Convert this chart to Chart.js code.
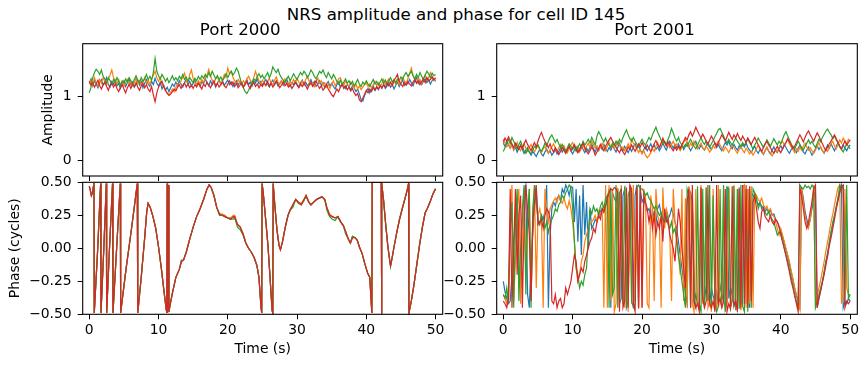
<!DOCTYPE html>
<html>
<head>
<meta charset="utf-8">
<script src="https://cdn.jsdelivr.net/npm/chart.js@4.4.1/dist/chart.umd.min.js"></script>
<style>
  body { margin: 0; background: #fff; }
  #fig { position: relative; width: 868px; height: 367px; }
  #fig canvas { position: absolute; left: 0; top: 0; }
  #suptitle {
    position: absolute; top: 5.3px; left: 456px; transform: translateX(-50%);
    font-family: 'DejaVu Sans', sans-serif; font-size: 16.67px; line-height: 20px;
    white-space: nowrap; color: #000;
  }
</style>
</head>
<body>
<div id="fig">
  <div id="suptitle">NRS amplitude and phase for cell ID 145</div>
  <canvas id="ampLeft" width="868" height="367"></canvas>
  <canvas id="ampRight" width="868" height="367"></canvas>
  <canvas id="phaseLeft" width="868" height="367"></canvas>
  <canvas id="phaseRight" width="868" height="367"></canvas>
</div>
<script>
// tab10 colours, one per antenna
const colors = ['#1f77b4', '#ff7f0e', '#2ca02c', '#d62728'];

const timeTicks = [0, 10, 20, 30, 40, 50];
const ampTicks = [0, 1];
const phaseTicks = [-0.5, -0.25, 0, 0.25, 0.5];

// amplitude and Port 2001 phase: one sample every 0.25 s, 0..50 s
const sampleStep = 0.25;

// Port 2000 amplitude
const ampLeftBlue = [
  1.22,1.28,1.17,1.25,1.2,1.14,1.23,1.27,1.18,1.22,1.3,1.19,1.15,1.24,1.2,1.26,1.17,1.21,1.13,1.2,
  1.25,1.16,1.22,1.28,1.19,1.23,1.15,1.2,1.26,1.18,1.24,1.14,1.21,1.27,1.2,1.16,1.24,1.19,1.29,1.21,
  1.17,1.23,1.12,1.18,1.1,1.15,1.08,1.14,1.2,1.16,1.23,1.18,1.25,1.2,1.15,1.22,1.27,1.19,1.24,1.17,
  1.21,1.26,1.18,1.23,1.16,1.24,1.2,1.28,1.22,1.17,1.25,1.19,1.23,1.15,1.21,1.27,1.2,1.24,1.18,1.22,
  1.26,1.19,1.23,1.16,1.21,1.25,1.18,1.24,1.2,1.15,1.22,1.27,1.19,1.23,1.17,1.25,1.21,1.28,1.2,1.24,
  1.18,1.23,1.27,1.2,1.15,1.22,1.26,1.19,1.24,1.17,1.21,1.25,1.18,1.23,1.28,1.2,1.16,1.22,1.19,1.25,
  1.2,1.15,1.22,1.26,1.18,1.23,1.17,1.21,1.27,1.19,1.24,1.16,1.2,1.25,1.18,1.22,1.14,1.2,1.24,1.17,
  1.21,1.16,1.12,1.19,1.23,1.15,1.2,1.17,1.13,1.19,1.16,1.11,1.17,1.14,1.08,1.12,1.04,0.95,0.93,1.02,
  1.08,1.13,1.06,1.12,1.17,1.1,1.15,1.11,1.18,1.14,1.2,1.13,1.17,1.22,1.15,1.19,1.12,1.18,1.23,1.16,
  1.21,1.26,1.18,1.23,1.2,1.27,1.22,1.17,1.25,1.3,1.21,1.26,1.19,1.24,1.28,1.22,1.27,1.2,1.25,1.29,
  1.24];
const ampLeftOrange = [
  1.2,1.26,1.18,1.3,1.22,1.17,1.27,1.21,1.3,1.24,1.19,1.28,1.34,1.42,1.3,1.25,1.2,1.27,1.18,1.23,
  1.16,1.22,1.27,1.19,1.24,1.17,1.22,1.29,1.2,1.25,1.18,1.23,1.3,1.21,1.26,1.19,1.28,1.34,1.4,1.3,
  1.24,1.3,1.2,1.15,1.1,1.06,1.03,1.07,1.12,1.08,1.15,1.2,1.17,1.25,1.3,1.37,1.26,1.22,1.35,1.42,
  1.28,1.22,1.18,1.25,1.2,1.27,1.22,1.3,1.34,1.43,1.33,1.26,1.21,1.28,1.32,1.24,1.19,1.27,1.35,1.3,
  1.45,1.36,1.4,1.3,1.25,1.2,1.27,1.22,1.18,1.25,1.21,1.28,1.32,1.26,1.22,1.3,1.4,1.32,1.25,1.2,
  1.26,1.21,1.17,1.24,1.29,1.22,1.18,1.26,1.31,1.23,1.19,1.25,1.2,1.28,1.22,1.16,1.24,1.2,1.27,1.22,
  1.29,1.23,1.18,1.25,1.2,1.27,1.32,1.24,1.19,1.22,1.16,1.24,1.29,1.21,1.25,1.18,1.22,1.15,1.2,1.13,
  1.2,1.25,1.17,1.22,1.28,1.3,1.22,1.18,1.25,1.2,1.16,1.23,1.19,1.14,1.2,1.12,1.17,1.11,1.15,1.19,
  1.22,1.16,1.2,1.14,1.19,1.24,1.18,1.22,1.16,1.21,1.27,1.2,1.24,1.28,1.21,1.17,1.24,1.2,1.26,1.19,
  1.23,1.3,1.25,1.2,1.28,1.36,1.45,1.33,1.27,1.22,1.3,1.25,1.2,1.29,1.34,1.26,1.3,1.38,1.32,1.27,
  1.3];
const ampLeftGreen = [
  1.06,1.15,1.3,1.38,1.43,1.4,1.35,1.42,1.32,1.28,1.22,1.3,1.25,1.19,1.27,1.22,1.3,1.24,1.18,1.25,
  1.21,1.28,1.23,1.3,1.25,1.2,1.27,1.33,1.26,1.22,1.3,1.24,1.28,1.35,1.27,1.32,1.26,1.38,1.6,1.4,
  1.33,1.28,1.35,1.3,1.24,1.29,1.22,1.27,1.33,1.26,1.3,1.25,1.32,1.28,1.35,1.27,1.31,1.24,1.3,1.26,
  1.22,1.29,1.25,1.32,1.27,1.33,1.29,1.35,1.3,1.38,1.32,1.4,1.34,1.28,1.33,1.27,1.31,1.25,1.3,1.36,
  1.3,1.36,1.4,1.34,1.38,1.45,1.4,1.3,1.2,1.14,1.08,1.05,1.1,1.16,1.22,1.28,1.25,1.32,1.36,1.3,
  1.34,1.28,1.33,1.38,1.3,1.36,1.47,1.42,1.38,1.43,1.35,1.3,1.26,1.22,1.28,1.32,1.25,1.3,1.36,1.31,
  1.27,1.33,1.38,1.34,1.4,1.36,1.3,1.35,1.42,1.38,1.32,1.28,1.34,1.4,1.37,1.42,1.35,1.3,1.38,1.33,
  1.28,1.35,1.3,1.24,1.2,1.26,1.18,1.23,1.28,1.21,1.25,1.19,1.24,1.17,1.22,1.27,1.2,1.16,1.23,1.19,
  1.25,1.2,1.16,1.22,1.27,1.2,1.24,1.18,1.23,1.28,1.21,1.26,1.2,1.25,1.3,1.23,1.27,1.22,1.28,1.25,
  1.31,1.27,1.34,1.38,1.32,1.36,1.4,1.33,1.28,1.35,1.3,1.38,1.32,1.27,1.34,1.4,1.36,1.3,1.37,1.33,
  1.35];
const ampLeftRed = [
  1.24,1.18,1.22,1.15,1.2,1.26,1.17,1.12,1.19,1.23,1.16,1.1,1.18,1.22,1.15,1.2,1.13,1.08,1.15,1.19,
  1.12,1.06,1.14,1.19,1.13,1.2,1.16,1.22,1.15,1.1,1.17,1.21,1.14,1.19,1.12,1.08,1.16,1.03,0.92,1.06,
  1.15,1.2,1.24,1.16,1.1,1.05,1.02,1.04,1.08,1.12,1.09,1.15,1.19,1.13,1.18,1.22,1.15,1.2,1.14,1.18,
  1.13,1.19,1.15,1.21,1.17,1.12,1.2,1.16,1.23,1.18,1.14,1.2,1.25,1.17,1.21,1.15,1.19,1.23,1.17,1.14,
  1.2,1.25,1.19,1.23,1.16,1.21,1.14,1.18,1.22,1.15,1.19,1.24,1.17,1.13,1.19,1.22,1.16,1.2,1.14,1.19,
  1.16,1.22,1.18,1.24,1.17,1.21,1.15,1.19,1.25,1.2,1.14,1.18,1.23,1.17,1.21,1.15,1.19,1.13,1.17,1.22,
  1.18,1.14,1.2,1.16,1.22,1.17,1.12,1.18,1.23,1.16,1.2,1.25,1.18,1.13,1.17,1.1,1.14,1.19,1.12,1.08,
  1.03,1.0,1.06,1.12,1.08,1.15,1.19,1.13,1.17,1.11,1.15,1.09,1.13,1.06,1.02,1.05,0.95,0.92,0.98,1.04,
  1.1,1.06,1.12,1.08,1.14,1.1,1.16,1.12,1.18,1.13,1.19,1.15,1.21,1.17,1.23,1.18,1.26,1.3,1.35,1.24,
  1.2,1.16,1.22,1.18,1.24,1.2,1.17,1.23,1.27,1.21,1.25,1.19,1.24,1.28,1.22,1.3,1.25,1.27,1.31,1.26,
  1.29];

// Port 2001 amplitude
const ampRightBlue = [
  0.27,0.22,0.3,0.24,0.19,0.25,0.16,0.21,0.13,0.19,0.24,0.17,0.11,0.16,0.2,0.13,0.08,0.14,0.1,0.06,
  0.12,0.17,0.1,0.07,0.13,0.18,0.11,0.15,0.08,0.12,0.17,0.1,0.14,0.2,0.13,0.18,0.12,0.16,0.22,0.15,
  0.1,0.16,0.21,0.14,0.18,0.24,0.17,0.12,0.19,0.14,0.2,0.26,0.18,0.13,0.2,0.15,0.22,0.17,0.25,0.19,
  0.14,0.2,0.16,0.23,0.18,0.13,0.2,0.27,0.2,0.15,0.22,0.17,0.12,0.19,0.14,0.21,0.26,0.19,0.23,0.16,
  0.11,0.17,0.22,0.15,0.2,0.26,0.19,0.24,0.17,0.21,0.15,0.2,0.27,0.21,0.16,0.23,0.3,0.24,0.19,0.25,
  0.2,0.26,0.19,0.24,0.17,0.22,0.28,0.21,0.15,0.2,0.26,0.3,0.22,0.18,0.24,0.19,0.16,0.23,0.28,0.21,
  0.17,0.23,0.27,0.2,0.25,0.19,0.15,0.22,0.28,0.24,0.3,0.22,0.18,0.25,0.2,0.16,0.23,0.19,0.25,0.21,
  0.27,0.2,0.16,0.12,0.18,0.22,0.15,0.11,0.17,0.13,0.09,0.15,0.2,0.14,0.1,0.16,0.21,0.15,0.12,0.18,
  0.23,0.17,0.25,0.2,0.15,0.11,0.17,0.22,0.16,0.12,0.19,0.24,0.18,0.13,0.1,0.16,0.21,0.14,0.08,0.13,
  0.18,0.23,0.17,0.21,0.15,0.11,0.18,0.24,0.19,0.26,0.2,0.15,0.22,0.28,0.21,0.17,0.24,0.19,0.15,0.21,
  0.24];
const ampRightOrange = [
  0.33,0.27,0.21,0.26,0.19,0.24,0.17,0.22,0.28,0.2,0.15,0.21,0.26,0.19,0.14,0.2,0.25,0.18,0.13,0.19,
  0.24,0.17,0.12,0.18,0.22,0.15,0.11,0.17,0.21,0.26,0.19,0.14,0.2,0.25,0.18,0.23,0.16,0.12,0.19,0.24,
  0.28,0.21,0.16,0.22,0.13,0.18,0.24,0.17,0.22,0.27,0.2,0.3,0.25,0.19,0.23,0.16,0.21,0.27,0.2,0.15,
  0.22,0.28,0.2,0.25,0.18,0.23,0.3,0.24,0.17,0.21,0.15,0.2,0.26,0.19,0.33,0.27,0.22,0.18,0.12,0.17,
  0.1,0.15,0.08,0.04,0.07,0.12,0.18,0.14,0.22,0.28,0.2,0.26,0.35,0.28,0.22,0.27,0.2,0.25,0.3,0.23,
  0.26,0.2,0.15,0.21,0.28,0.33,0.25,0.2,0.27,0.22,0.3,0.24,0.18,0.23,0.27,0.2,0.16,0.22,0.18,0.13,
  0.17,0.23,0.19,0.26,0.3,0.24,0.19,0.15,0.21,0.17,0.12,0.18,0.24,0.2,0.15,0.11,0.17,0.22,0.16,0.12,
  0.19,0.15,0.1,0.14,0.08,0.13,0.18,0.24,0.19,0.14,0.1,0.16,0.21,0.15,0.11,0.07,0.12,0.17,0.13,0.2,
  0.26,0.3,0.24,0.28,0.33,0.26,0.21,0.17,0.12,0.18,0.14,0.2,0.16,0.22,0.27,0.21,0.16,0.2,0.15,0.11,
  0.16,0.22,0.28,0.2,0.15,0.12,0.18,0.14,0.2,0.26,0.3,0.22,0.18,0.25,0.32,0.27,0.35,0.3,0.26,0.33,
  0.3];
const ampRightGreen = [
  0.14,0.2,0.27,0.33,0.26,0.36,0.3,0.24,0.18,0.25,0.3,0.22,0.15,0.11,0.17,0.13,0.1,0.16,0.22,0.19,
  0.24,0.18,0.14,0.2,0.27,0.22,0.3,0.36,0.4,0.34,0.28,0.33,0.26,0.2,0.25,0.19,0.14,0.2,0.26,0.22,
  0.17,0.22,0.14,0.2,0.26,0.21,0.3,0.24,0.28,0.33,0.27,0.36,0.3,0.24,0.38,0.45,0.4,0.34,0.29,0.35,
  0.28,0.24,0.2,0.27,0.23,0.3,0.25,0.33,0.28,0.36,0.42,0.48,0.4,0.34,0.3,0.36,0.3,0.25,0.21,0.28,
  0.33,0.27,0.24,0.3,0.36,0.32,0.4,0.46,0.52,0.44,0.38,0.32,0.27,0.3,0.25,0.33,0.4,0.5,0.43,0.35,
  0.3,0.36,0.28,0.24,0.2,0.25,0.22,0.28,0.33,0.27,0.22,0.18,0.24,0.3,0.35,0.29,0.25,0.3,0.24,0.2,
  0.26,0.31,0.37,0.42,0.48,0.5,0.44,0.38,0.32,0.27,0.33,0.28,0.24,0.3,0.35,0.3,0.26,0.22,0.28,0.23,
  0.29,0.34,0.28,0.23,0.18,0.24,0.29,0.35,0.3,0.25,0.2,0.26,0.32,0.27,0.22,0.28,0.34,0.29,0.24,0.3,
  0.26,0.33,0.4,0.45,0.38,0.32,0.26,0.21,0.18,0.24,0.3,0.25,0.2,0.16,0.22,0.27,0.32,0.26,0.3,0.24,
  0.2,0.27,0.33,0.29,0.36,0.41,0.46,0.49,0.44,0.4,0.34,0.38,0.32,0.27,0.22,0.17,0.13,0.2,0.26,0.22,
  0.18];
const ampRightRed = [
  0.28,0.35,0.3,0.37,0.31,0.25,0.2,0.27,0.22,0.17,0.23,0.18,0.26,0.32,0.25,0.2,0.15,0.22,0.28,0.21,
  0.3,0.38,0.44,0.36,0.3,0.25,0.2,0.26,0.18,0.13,0.2,0.15,0.09,0.14,0.2,0.16,0.11,0.17,0.22,0.15,
  0.2,0.25,0.18,0.12,0.16,0.22,0.27,0.2,0.14,0.1,0.15,0.21,0.16,0.08,0.13,0.19,0.25,0.2,0.15,0.22,
  0.27,0.32,0.36,0.3,0.26,0.21,0.16,0.12,0.18,0.13,0.09,0.15,0.21,0.17,0.24,0.19,0.14,0.2,0.26,0.21,
  0.28,0.22,0.18,0.24,0.19,0.14,0.2,0.26,0.31,0.25,0.2,0.27,0.34,0.28,0.23,0.29,0.24,0.19,0.15,0.21,
  0.16,0.22,0.18,0.25,0.3,0.36,0.32,0.4,0.45,0.38,0.44,0.52,0.46,0.4,0.35,0.41,0.36,0.3,0.25,0.32,
  0.38,0.33,0.27,0.22,0.28,0.34,0.4,0.35,0.3,0.37,0.44,0.38,0.33,0.4,0.35,0.42,0.36,0.31,0.38,0.33,
  0.28,0.35,0.3,0.25,0.31,0.36,0.3,0.24,0.19,0.14,0.2,0.26,0.3,0.24,0.2,0.15,0.11,0.17,0.22,0.16,
  0.12,0.18,0.23,0.28,0.34,0.29,0.24,0.18,0.22,0.28,0.34,0.4,0.35,0.29,0.36,0.42,0.46,0.4,0.35,0.3,
  0.37,0.43,0.38,0.32,0.26,0.2,0.15,0.21,0.26,0.3,0.36,0.4,0.34,0.28,0.22,0.18,0.25,0.3,0.24,0.28,
  0.32];

// Port 2000 phase: the four antennas follow one wrapped curve
const phaseLeftTime = [
  0,0.15,0.3,0.45,0.6,0.68,0.72,1.2,1.64,1.69,
  2.1,2.46,2.51,2.9,3.36,3.42,3.95,4.48,4.53,5.3,
  6.1,6.93,7.0,7.5,8.0,8.3,8.5,8.8,9.2,9.6,
  10.0,10.4,10.8,11.1,11.2,11.25,11.3,11.4,11.5,11.7,
  12.0,12.5,13.0,13.3,13.6,14.0,14.5,15.0,15.5,16.0,
  16.5,17.0,17.3,17.6,18.0,18.4,18.8,19.2,19.6,20.0,
  20.4,20.8,21.0,21.4,21.8,22.2,22.6,23.0,23.4,23.8,
  24.2,24.5,24.8,24.9,24.95,25.1,25.5,25.8,26.1,26.4,
  26.5,26.55,26.8,27.1,27.4,27.6,27.9,28.3,28.7,29.0,
  29.4,29.8,30.2,30.6,31.0,31.3,31.7,32.0,32.4,32.8,
  33.2,33.6,34.0,34.3,34.7,35.1,35.5,35.9,36.3,36.7,
  37.0,37.4,37.7,38.0,38.4,38.7,39.0,39.4,39.8,40.2,
  40.5,40.7,40.8,40.85,41.5,42.15,42.2,42.25,42.5,42.8,
  43.1,43.4,43.5,43.7,44.0,44.4,44.8,45.2,45.6,45.9,
  46.1,46.15,46.5,46.9,47.3,47.7,48.1,48.5,48.8,49.2,
  49.6,50.0];
const phaseLeftBlue = [
  0.47,0.44,0.40,0.42,0.47,0.495,-0.49,-0.02,0.49,-0.49,
  0.0,0.49,-0.49,-0.02,0.49,-0.49,0.0,0.49,-0.49,-0.16,
  0.15,0.49,-0.49,-0.22,0.08,0.28,0.34,0.31,0.24,0.15,
  0.01,-0.15,-0.33,-0.46,-0.49,0.49,-0.49,0.47,-0.48,-0.42,
  -0.34,-0.22,-0.16,-0.09,-0.09,-0.03,0.07,0.16,0.24,0.30,
  0.37,0.45,0.48,0.46,0.40,0.31,0.26,0.25,0.24,0.23,
  0.22,0.24,0.23,0.18,0.16,0.11,0.04,0.00,-0.03,-0.07,
  -0.13,-0.22,-0.45,-0.49,0.49,0.43,0.20,0.02,-0.22,-0.47,
  -0.49,0.49,0.32,0.14,0.02,-0.01,0.05,0.16,0.25,0.29,
  0.33,0.37,0.35,0.33,0.37,0.39,0.35,0.33,0.35,0.37,
  0.38,0.39,0.37,0.31,0.25,0.24,0.23,0.24,0.20,0.17,
  0.13,0.07,0.04,0.09,0.08,0.06,0.01,-0.04,-0.12,-0.19,
  -0.22,-0.40,-0.49,0.5,0.5,0.5,-0.495,0.49,0.36,0.18,
  0.02,-0.10,-0.13,-0.08,0.01,0.12,0.22,0.30,0.38,0.44,
  0.49,-0.49,-0.40,-0.27,-0.12,0.03,0.16,0.27,0.30,0.35,
  0.41,0.45];
const phaseLeftOrange = [
  0.47,0.44,0.40,0.42,0.47,0.495,-0.49,-0.02,0.49,-0.49,
  0.0,0.49,-0.49,-0.02,0.49,-0.49,0.0,0.49,-0.49,-0.16,
  0.15,0.49,-0.49,-0.22,0.08,0.28,0.34,0.31,0.24,0.15,
  0.01,-0.15,-0.33,-0.46,-0.49,0.49,-0.49,0.48,-0.48,-0.42,
  -0.34,-0.22,-0.16,-0.10,-0.09,-0.03,0.07,0.16,0.24,0.30,
  0.37,0.45,0.48,0.46,0.40,0.31,0.26,0.26,0.25,0.23,
  0.23,0.25,0.25,0.18,0.16,0.11,0.04,0.00,-0.03,-0.07,
  -0.13,-0.22,-0.45,-0.49,0.49,0.43,0.20,0.02,-0.22,-0.47,
  -0.49,0.49,0.32,0.14,0.02,-0.01,0.05,0.16,0.25,0.29,
  0.33,0.37,0.35,0.34,0.37,0.40,0.35,0.33,0.35,0.37,
  0.38,0.39,0.37,0.31,0.26,0.24,0.23,0.24,0.20,0.17,
  0.13,0.07,0.04,0.08,0.08,0.06,0.01,-0.04,-0.12,-0.19,
  -0.22,-0.40,-0.49,0.5,0.5,0.5,-0.495,0.49,0.36,0.18,
  0.02,-0.10,-0.13,-0.08,0.01,0.12,0.22,0.31,0.38,0.44,
  0.49,-0.49,-0.40,-0.27,-0.12,0.03,0.16,0.27,0.30,0.35,
  0.41,0.45];
const phaseLeftGreen = [
  0.47,0.44,0.40,0.42,0.47,0.495,-0.49,-0.02,0.49,-0.49,
  0.0,0.49,-0.49,-0.02,0.49,-0.49,0.0,0.49,-0.49,-0.16,
  0.15,0.49,-0.49,-0.22,0.08,0.28,0.34,0.31,0.24,0.15,
  0.01,-0.15,-0.33,-0.46,-0.49,0.49,-0.49,0.48,-0.48,-0.42,
  -0.34,-0.22,-0.16,-0.10,-0.09,-0.03,0.07,0.16,0.24,0.30,
  0.37,0.45,0.48,0.46,0.40,0.31,0.25,0.25,0.24,0.23,
  0.22,0.22,0.23,0.16,0.14,0.10,0.04,0.00,-0.03,-0.07,
  -0.13,-0.22,-0.45,-0.49,0.49,0.43,0.20,0.02,-0.22,-0.47,
  -0.49,0.49,0.32,0.14,0.02,-0.01,0.05,0.16,0.25,0.29,
  0.31,0.37,0.34,0.33,0.36,0.40,0.35,0.33,0.35,0.37,
  0.38,0.39,0.37,0.29,0.24,0.22,0.21,0.24,0.20,0.17,
  0.11,0.07,0.04,0.09,0.08,0.06,0.01,-0.04,-0.12,-0.19,
  -0.22,-0.40,-0.49,0.5,0.5,0.5,-0.495,0.49,0.36,0.18,
  0.02,-0.10,-0.14,-0.08,0.01,0.12,0.22,0.30,0.38,0.44,
  0.49,-0.49,-0.40,-0.27,-0.12,0.03,0.16,0.27,0.30,0.35,
  0.41,0.45];
const phaseLeftRed = [
  0.47,0.44,0.40,0.42,0.47,0.495,-0.49,-0.02,0.49,-0.49,
  0.0,0.49,-0.49,-0.02,0.49,-0.49,0.0,0.49,-0.49,-0.16,
  0.15,0.49,-0.49,-0.22,0.08,0.28,0.34,0.31,0.24,0.15,
  0.01,-0.15,-0.33,-0.46,-0.49,0.49,-0.49,0.48,-0.48,-0.42,
  -0.34,-0.22,-0.16,-0.10,-0.09,-0.03,0.07,0.16,0.24,0.30,
  0.37,0.45,0.48,0.46,0.40,0.31,0.26,0.25,0.24,0.23,
  0.22,0.24,0.24,0.18,0.16,0.11,0.04,0.00,-0.03,-0.07,
  -0.13,-0.22,-0.45,-0.49,0.49,0.43,0.20,0.02,-0.22,-0.47,
  -0.49,0.49,0.32,0.14,0.02,-0.01,0.05,0.16,0.25,0.29,
  0.33,0.37,0.35,0.33,0.37,0.40,0.35,0.33,0.35,0.37,
  0.38,0.39,0.37,0.31,0.25,0.24,0.23,0.24,0.20,0.17,
  0.13,0.07,0.04,0.08,0.08,0.06,0.01,-0.04,-0.12,-0.19,
  -0.22,-0.40,-0.49,0.5,0.5,0.5,-0.495,0.49,0.36,0.18,
  0.02,-0.10,-0.13,-0.08,0.01,0.12,0.22,0.30,0.38,0.44,
  0.49,-0.49,-0.40,-0.27,-0.12,0.03,0.16,0.27,0.30,0.35,
  0.41,0.45];

// Port 2001 phase
const phaseRightBlue = [
  -0.25,-0.33,-0.38,-0.42,-0.4,-0.2,0.05,0.22,0.35,-0.1,-0.3,0.2,0.42,0.48,-0.35,-0.45,-0.1,0.1,0.3,0.45,
  0.2,0.18,0.25,0.22,0.28,0.48,-0.45,0.1,0.3,0.35,0.32,0.38,0.4,0.36,0.45,0.42,0.48,0.45,0.4,0.47,
  0.46,0.2,0.45,0.05,0.4,-0.05,0.48,0.1,0.35,0.0,0.3,0.15,0.18,0.22,0.2,0.25,0.28,0.3,0.27,0.33,
  0.38,0.45,-0.45,0.42,0.38,0.35,0.45,-0.42,-0.38,0.4,0.45,-0.45,-0.4,0.46,0.42,-0.42,0.4,0.48,-0.45,0.45,
  0.35,0.38,0.32,0.28,0.3,0.25,0.22,0.28,0.18,0.3,0.33,0.26,0.2,0.24,0.28,0.22,0.25,0.3,0.26,0.2,
  0.15,0.05,-0.05,-0.15,-0.25,-0.35,-0.42,0.45,0.42,0.35,-0.4,-0.35,-0.42,-0.45,0.46,-0.4,-0.38,-0.3,-0.35,-0.42,
  -0.3,-0.36,-0.4,-0.33,-0.42,-0.28,-0.35,-0.4,-0.45,0.47,-0.38,-0.3,-0.35,-0.43,-0.4,-0.46,0.45,-0.42,-0.38,0.48,
  -0.42,0.45,-0.45,0.42,0.4,0.38,0.36,0.33,0.35,0.3,0.32,0.28,0.3,0.27,0.29,0.25,0.26,0.22,0.2,0.16,
  0.13,0.09,0.04,-0.01,-0.06,-0.12,-0.18,-0.24,-0.3,-0.36,-0.4,-0.45,0.46,0.38,0.28,0.22,0.17,0.22,0.3,0.38,
  0.45,-0.45,-0.38,-0.32,-0.25,-0.18,-0.1,-0.03,0.04,0.12,0.18,0.25,0.32,0.38,0.44,0.48,-0.45,-0.4,-0.42,-0.38,
  -0.4];
const phaseRightOrange = [
  -0.35,-0.38,-0.42,-0.3,0.2,0.48,-0.4,-0.1,0.3,0.45,-0.42,0.1,0.35,-0.2,0.15,0.45,-0.38,0.2,0.48,-0.3,
  0.25,0.3,0.22,-0.45,0.45,0.28,0.2,0.3,0.33,0.36,0.38,0.35,0.4,0.36,0.34,0.38,0.33,0.3,0.36,0.3,
  0.2,0.05,-0.15,-0.25,-0.2,-0.1,-0.05,0.05,0.1,0.15,0.18,0.2,0.22,0.25,0.2,0.28,0.25,0.3,-0.45,0.48,
  -0.45,0.48,-0.4,0.45,-0.48,-0.42,0.46,-0.45,0.48,-0.38,-0.45,0.45,-0.48,0.47,-0.42,0.48,-0.4,0.45,-0.46,0.45,
  -0.45,0.45,0.38,-0.42,-0.45,0.4,0.3,-0.4,0.45,0.25,0.2,-0.45,0.46,0.15,0.3,0.25,0.1,-0.4,0.45,0.2,
  0.1,-0.05,-0.2,0.45,-0.4,0.38,-0.45,0.47,0.4,-0.42,-0.48,0.45,-0.4,-0.45,0.48,-0.42,-0.35,0.46,-0.45,-0.4,
  -0.48,0.45,-0.4,-0.45,0.48,-0.42,-0.38,0.45,-0.46,-0.4,0.47,-0.45,-0.38,0.48,-0.44,0.45,-0.4,-0.47,0.46,0.48,
  -0.45,0.45,-0.42,0.47,-0.45,0.42,0.4,0.37,0.35,0.38,0.33,0.3,0.32,0.28,0.3,0.26,0.24,0.2,0.15,0.1,
  0.15,0.1,0.05,0.0,-0.05,-0.1,-0.17,-0.23,-0.3,-0.35,-0.4,-0.46,0.45,0.35,0.25,0.18,0.15,0.22,0.35,0.48,
  -0.42,-0.36,-0.3,-0.24,-0.17,-0.1,-0.02,0.05,0.12,0.2,0.26,0.33,0.4,0.46,0.48,-0.42,-0.35,0.45,-0.3,-0.35,
  -0.35];
const phaseRightGreen = [
  -0.35,-0.38,-0.3,-0.42,0.1,0.35,-0.45,0.2,0.45,-0.4,0.0,0.3,0.48,-0.35,0.25,0.45,-0.45,0.3,0.48,0.35,
  0.22,0.18,0.25,0.2,0.15,0.2,0.12,0.18,0.22,0.25,0.3,0.28,0.33,0.35,0.4,0.38,0.42,0.45,0.48,0.46,
  0.3,0.05,-0.15,-0.2,-0.3,-0.25,-0.28,-0.2,-0.15,0.1,0.3,0.26,0.32,0.28,0.3,0.25,0.32,0.35,0.3,0.38,
  0.4,-0.45,0.46,-0.35,-0.3,0.48,-0.45,0.42,0.45,-0.42,0.47,-0.45,0.4,0.45,-0.4,-0.45,-0.42,0.46,0.48,0.45,
  0.45,0.43,0.4,0.42,0.38,0.36,0.33,0.3,0.32,0.28,0.25,0.27,0.22,0.2,0.24,0.18,0.15,0.2,0.12,0.15,
  0.05,-0.05,-0.15,-0.25,-0.35,-0.45,0.45,0.4,-0.45,0.42,-0.4,-0.45,0.47,-0.42,-0.48,0.45,-0.45,0.46,-0.4,0.48,
  -0.45,0.4,-0.42,-0.48,-0.44,0.45,-0.45,0.48,-0.48,0.46,0.45,-0.45,-0.4,0.47,-0.47,0.45,-0.46,0.48,-0.44,-0.48,
  0.45,-0.48,0.46,-0.45,0.45,0.42,0.38,0.3,0.34,0.32,0.3,0.27,0.25,0.28,0.24,0.22,0.2,0.15,0.1,0.12,
  0.12,0.06,0.0,-0.05,-0.1,-0.16,-0.22,-0.28,-0.35,-0.4,-0.45,0.48,0.46,0.45,0.48,0.46,0.47,0.45,0.48,0.46,
  -0.45,-0.4,-0.35,-0.3,-0.25,-0.18,-0.1,-0.05,0.05,0.12,0.2,0.25,0.3,0.38,0.48,0.45,0.47,-0.4,0.48,-0.38,
  -0.35];
const phaseRightRed = [
  -0.4,-0.42,-0.45,-0.38,0.45,-0.45,0.0,0.45,-0.2,0.25,0.4,-0.45,0.2,0.48,0.3,0.1,-0.4,0.2,0.35,0.48,
  0.18,0.2,0.22,0.15,0.25,0.3,0.28,0.22,-0.4,-0.42,-0.35,-0.45,-0.4,-0.38,-0.45,-0.42,-0.3,-0.35,-0.3,-0.25,
  -0.15,-0.05,-0.1,-0.25,-0.2,-0.15,-0.18,-0.1,-0.05,0.0,0.05,0.08,0.15,0.12,0.2,0.25,0.22,0.3,0.28,0.32,
  0.38,0.42,0.45,0.44,0.46,0.45,0.42,-0.48,0.45,-0.45,-0.4,0.46,-0.45,0.48,0.45,-0.42,-0.48,0.46,-0.45,0.48,
  -0.45,0.4,0.35,0.3,0.2,0.28,0.15,0.25,0.1,0.2,0.15,0.25,0.05,0.3,0.2,0.22,0.1,0.05,0.0,-0.1,
  0.1,0.3,0.2,0.0,-0.15,-0.3,0.35,0.45,-0.45,0.48,-0.4,-0.45,-0.42,-0.48,0.46,-0.38,-0.45,-0.4,0.48,-0.42,
  -0.45,-0.4,-0.48,0.48,-0.42,-0.38,-0.45,-0.4,0.45,-0.48,-0.42,-0.46,0.47,-0.44,-0.4,-0.48,0.46,-0.45,0.48,-0.42,
  0.48,-0.45,0.47,-0.4,0.35,0.4,0.3,0.2,0.15,0.28,0.3,0.24,0.22,0.2,0.25,0.2,0.18,0.22,0.2,0.17,
  0.1,0.05,0.0,-0.06,-0.12,-0.18,-0.25,-0.3,-0.36,-0.42,-0.48,0.46,0.4,0.3,0.2,0.15,0.2,0.28,0.35,0.45,
  0.48,-0.45,-0.38,-0.32,-0.26,-0.2,-0.13,-0.06,0.02,0.08,0.15,0.22,0.3,0.36,0.42,0.47,0.48,-0.45,-0.4,-0.42,
  -0.4];

Chart.defaults.font.family = "'DejaVu Sans', sans-serif";
Chart.defaults.color = '#000';

// box around each axes, drawn over the lines like matplotlib spines
const frame = {
  id: 'frame',
  afterDatasetsDraw(chart) {
    const a = chart.chartArea, ctx = chart.ctx;
    ctx.save();
    ctx.strokeStyle = '#000';
    ctx.lineWidth = 1.1;
    ctx.strokeRect(a.left, a.top, a.right - a.left, a.bottom - a.top);
    ctx.restore();
  }
};

function pts(t, v) {
  return v.map((y, i) => ({x: t[i], y: y}));
}

function gridPts(step, v) {
  return v.map((y, i) => ({x: i * step, y: y}));
}

function series(dataLists) {
  return dataLists.map((d, k) => ({
    data: d,
    borderColor: colors[k],
    backgroundColor: colors[k],
    borderWidth: 1.2,
    pointRadius: 0,
    order: 3 - k
  }));
}

function fmtPhase(v) {
  return v.toFixed(2).replace('-', '\u2212');
}

function xAxis(showLabels, title) {
  return {
    type: 'linear', min: -0.95, max: 51.03,
    afterBuildTicks: s => { s.ticks = timeTicks.map(v => ({value: v})); },
    afterFit: s => { s.height = showLabels ? 45 : 10; s.paddingLeft = 0; s.paddingRight = 0; },
    grid: {drawOnChartArea: false, color: '#000', tickLength: 5, lineWidth: 1},
    border: {display: false},
    ticks: {display: showLabels, padding: 3, font: {size: 13.9}, maxRotation: 0, autoSkip: false,
            callback: v => String(v)},
    title: {display: !!title, text: title || '', font: {size: 13.9}, padding: {top: 0, bottom: 1.8}}
  };
}

function yAxis(min, max, ticks, fmt, width, title, titlePad) {
  return {
    type: 'linear', min: min, max: max,
    afterBuildTicks: s => { s.ticks = ticks.map(v => ({value: v})); },
    afterFit: s => { s.width = width; s.paddingTop = 0; s.paddingBottom = 0; },
    grid: {drawOnChartArea: false, color: '#000', tickLength: 5, lineWidth: 1},
    border: {display: false},
    ticks: {padding: 6, font: {size: 13.9}, autoSkip: false, callback: fmt},
    title: {display: !!title, text: title || '', font: {size: 13.9}, padding: {top: titlePad || 0, bottom: 0}}
  };
}

function makeChart(id, datasets, pad, portTitle, x, y) {
  return new Chart(document.getElementById(id), {
    type: 'line',
    data: {datasets: datasets},
    options: {
      responsive: false,
      animation: false,
      events: [],
      layout: {padding: pad, autoPadding: false},
      plugins: {
        legend: {display: false},
        tooltip: {enabled: false},
        title: {display: !!portTitle, text: portTitle || '', color: '#000',
                font: {size: 16.67, weight: 'normal'}, padding: {top: 0, bottom: 3.4}}
      },
      scales: {x: x, y: y}
    },
    plugins: [frame]
  });
}

const ampFmt = v => String(v);

makeChart('ampLeft',
  series([ampLeftBlue, ampLeftOrange, ampLeftGreen, ampLeftRed].map(v => gridPts(sampleStep, v))),
  {left: 37.7, right: 425.3, top: 20.3, bottom: 181},
  'Port 2000', xAxis(false), yAxis(-0.247, 1.833, ampTicks, ampFmt, 45, 'Amplitude', 2.5));

makeChart('ampRight',
  series([ampRightBlue, ampRightOrange, ampRightGreen, ampRightRed].map(v => gridPts(sampleStep, v))),
  {left: 451.7, right: 10.7, top: 20.3, bottom: 181},
  'Port 2001', xAxis(false), yAxis(-0.247, 1.833, ampTicks, ampFmt, 45));

makeChart('phaseLeft',
  series([phaseLeftBlue, phaseLeftOrange, phaseLeftGreen, phaseLeftRed].map(v => pts(phaseLeftTime, v))),
  {left: 2.7, right: 425.3, top: 182.3, bottom: 7.7},
  null, xAxis(true, 'Time (s)'), yAxis(-0.5, 0.5, phaseTicks, fmtPhase, 80, 'Phase (cycles)', 4));

makeChart('phaseRight',
  series([phaseRightBlue, phaseRightOrange, phaseRightGreen, phaseRightRed].map(v => gridPts(sampleStep, v))),
  {left: 416.7, right: 10.7, top: 182.3, bottom: 7.7},
  null, xAxis(true, 'Time (s)'), yAxis(-0.5, 0.5, phaseTicks, fmtPhase, 80));
</script>
</body>
</html>
